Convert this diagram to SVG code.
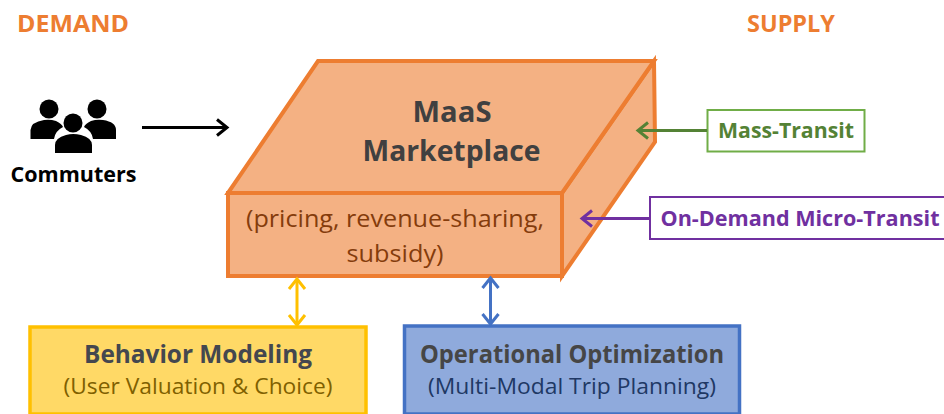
<svg xmlns="http://www.w3.org/2000/svg" width="944" height="414" viewBox="0 0 944 414">
<style>
text{font-family:"Open Sans","Noto Sans","Liberation Sans",sans-serif;text-anchor:middle}
.b{font-weight:700}
.edge{fill:#f4b183;stroke:#ed7d31;stroke-width:4;stroke-linejoin:miter}
.lab{fill:#ed7d31;font-size:24px;font-weight:700}
</style>
<defs>
<marker id="mk" viewBox="0 0 16 20" refX="13" refY="10" markerWidth="16" markerHeight="20" markerUnits="userSpaceOnUse" orient="auto-start-reverse"><path d="M3 2 L13 10 L3 18" fill="none" stroke="context-stroke" stroke-width="3"/></marker>
</defs>
<rect width="944" height="414" fill="#fff"/>
<g id="demand-label"><text class="lab" x="73" y="32" textLength="112" lengthAdjust="spacingAndGlyphs">DEMAND</text></g>
<g id="supply-label"><text class="lab" x="791" y="32" textLength="88" lengthAdjust="spacingAndGlyphs">SUPPLY</text></g>
<g id="commuters">
<g fill="#000">
<circle cx="49" cy="109" r="9.500"/><circle cx="97" cy="109" r="9.500"/>
<path d="M30.500 139 V130 Q31 122 44 120 Q50 119 56 121 Q62 124 63 127 Q55 131 54 139 Z"/>
<path d="M116 139 V130 Q116 122 103 120 Q97 119 91 121 Q85 124 84 127 Q92 131 93 139 Z"/>
<circle cx="73" cy="123" r="9.500"/>
<path d="M55 153 V145 Q55 138 66 135 Q73 133 81 135 Q92 138 92 145 V153 Z"/>
</g>
<text class="b" x="73.500" y="182" font-size="22" fill="#000" textLength="126" lengthAdjust="spacingAndGlyphs">Commuters</text>
</g>
<g id="marketplace">
<path class="edge" d="M654 61 L655 142 L562 276 L562 193 Z"/>
<path class="edge" d="M228 193 L318 61 L654 61 L562 193 Z"/>
<rect class="edge" x="228" y="193" width="334" height="83"/>
<text class="b" x="452" y="122" font-size="29" fill="#404040" textLength="79" lengthAdjust="spacingAndGlyphs">MaaS</text>
<text class="b" x="451.500" y="161" font-size="29" fill="#404040" textLength="178" lengthAdjust="spacingAndGlyphs">Marketplace</text>
<text x="395" y="227" font-size="24" fill="#843c0c" textLength="298" lengthAdjust="spacingAndGlyphs">(pricing, revenue-sharing,</text>
<text x="395" y="262" font-size="24" fill="#843c0c" textLength="97" lengthAdjust="spacingAndGlyphs">subsidy)</text>
</g>
<g id="mass-transit">
<rect x="707.500" y="110" width="157" height="41.500" fill="#fff" stroke="#70ad47" stroke-width="2"/>
<text class="b" x="786" y="138" font-size="22" fill="#548235" textLength="136" lengthAdjust="spacingAndGlyphs">Mass-Transit</text>
</g>
<g id="micro-transit">
<rect x="650" y="197" width="300" height="42" fill="#fff" stroke="#7030a0" stroke-width="2"/>
<text class="b" x="800" y="226" font-size="22" fill="#7030a0" textLength="279" lengthAdjust="spacingAndGlyphs">On-Demand Micro-Transit</text>
</g>
<g id="behavior-modeling">
<rect x="30" y="327" width="336" height="87" fill="#ffd966" stroke="#ffc000" stroke-width="3.500"/>
<text class="b" x="198" y="363" font-size="25" fill="#44474f" textLength="228" lengthAdjust="spacingAndGlyphs">Behavior Modeling</text>
<text x="198" y="394" font-size="22" fill="#7f6000" textLength="269" lengthAdjust="spacingAndGlyphs">(User Valuation &amp; Choice)</text>
</g>
<g id="operational-optimization">
<rect x="404.500" y="326" width="335" height="88" fill="#8faadc" stroke="#4472c4" stroke-width="3.500"/>
<text class="b" x="572" y="363" font-size="25" fill="#464646" textLength="304" lengthAdjust="spacingAndGlyphs">Operational Optimization</text>
<text x="572" y="394" font-size="22" fill="#203864" textLength="288" lengthAdjust="spacingAndGlyphs">(Multi-Modal Trip Planning)</text>
</g>
<g id="connectors" fill="none" stroke-width="3">
<path d="M142 127.500 H227" stroke="#000" marker-end="url(#mk)"/>
<path d="M707 130.500 H638" stroke="#548235" marker-end="url(#mk)"/>
<path d="M650 218.500 H582" stroke="#7030a0" marker-end="url(#mk)"/>
<path d="M297 279 V325" stroke="#ffc000" marker-start="url(#mk)" marker-end="url(#mk)"/>
<path d="M490.500 278 V324" stroke="#4472c4" marker-start="url(#mk)" marker-end="url(#mk)"/>
</g>
</svg>
